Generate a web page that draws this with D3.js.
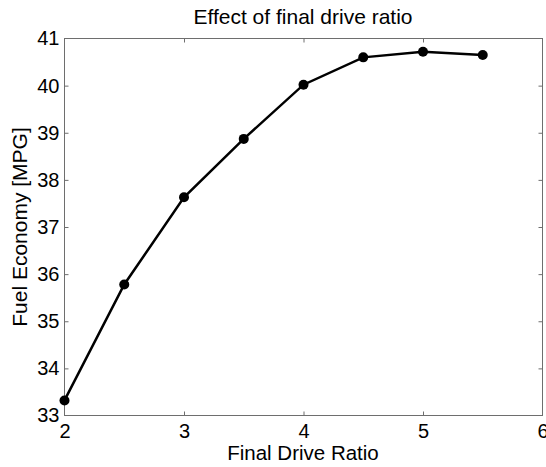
<!DOCTYPE html>
<html>
<head>
<meta charset="utf-8">
<script src="https://cdn.jsdelivr.net/npm/d3@7"></script>
<style>
  body { margin: 0; background: #fff; }
  svg text { font-family: "Liberation Sans", Arial, sans-serif; fill: #000; }
</style>
</head>
<body>
<svg id="chart" width="546" height="467"></svg>
<script>
const ratios = [2, 2.5, 3, 3.5, 4, 4.5, 5, 5.5];
const mpg = [33.32, 35.78, 37.63, 38.87, 40.02, 40.60, 40.72, 40.65];
const xTicks = [2, 3, 4, 5, 6];
const yTicks = [33, 34, 35, 36, 37, 38, 39, 40, 41];

const svg = d3.select("#chart");
const margin = {left: 64.5, right: 3.5, top: 38.5, bottom: 51.5};
const width = 546, height = 467;

const x = d3.scaleLinear().domain([2, 6]).range([margin.left, width - margin.right]);
const y = d3.scaleLinear().domain([33, 41]).range([height - margin.bottom, margin.top]);

const axisColor = "#6e6e6e";

// box
svg.append("rect")
  .attr("x", x(2)).attr("y", y(41))
  .attr("width", x(6) - x(2)).attr("height", y(33) - y(41))
  .attr("fill", "none").attr("stroke", axisColor).attr("stroke-width", 1);

function styleAxis(g) {
  g.select(".domain").remove();
  g.selectAll(".tick line").attr("stroke", axisColor);
  g.selectAll(".tick text").attr("font-size", 20).attr("fill", "#000");
}

svg.append("g").attr("transform", `translate(0,${y(33)})`)
  .call(d3.axisBottom(x).tickValues(xTicks).tickSizeInner(-4).tickPadding(8).tickFormat(d3.format("d")))
  .call(styleAxis);
svg.append("g").attr("transform", `translate(0,${y(41)})`)
  .call(d3.axisTop(x).tickValues(xTicks).tickSizeInner(-4).tickFormat(""))
  .call(styleAxis);
svg.append("g").attr("transform", `translate(${x(2)},0)`)
  .call(d3.axisLeft(y).tickValues(yTicks).tickSizeInner(-4).tickPadding(5).tickFormat(d3.format("d")))
  .call(styleAxis);
svg.append("g").attr("transform", `translate(${x(6)},0)`)
  .call(d3.axisRight(y).tickValues(yTicks).tickSizeInner(-4).tickFormat(""))
  .call(styleAxis);

// hide end ticks that overlap the box
svg.selectAll(".tick line").filter(d => d === 2 || d === 6 || d === 33 || d === 41).remove();

const pts = ratios.map((r, i) => [r, mpg[i]]);
svg.append("path")
  .datum(pts)
  .attr("fill", "none").attr("stroke", "#000").attr("stroke-width", 2.5)
  .attr("d", d3.line().x(d => x(d[0])).y(d => y(d[1])));

svg.selectAll(".pt").data(pts).enter().append("circle")
  .attr("class", "pt")
  .attr("cx", d => x(d[0])).attr("cy", d => y(d[1]))
  .attr("r", 5).attr("fill", "#000");

svg.append("text").attr("x", 303).attr("y", 23.5)
  .attr("text-anchor", "middle").attr("font-size", 21)
  .text("Effect of final drive ratio");

svg.append("text").attr("x", 303).attr("y", 460)
  .attr("text-anchor", "middle").attr("font-size", 20.5)
  .text("Final Drive Ratio");

svg.append("text")
  .attr("transform", `translate(27,${(y(33) + y(41)) / 2}) rotate(-90)`)
  .attr("text-anchor", "middle").attr("font-size", 21)
  .text("Fuel Economy [MPG]");
</script>
</body>
</html>
